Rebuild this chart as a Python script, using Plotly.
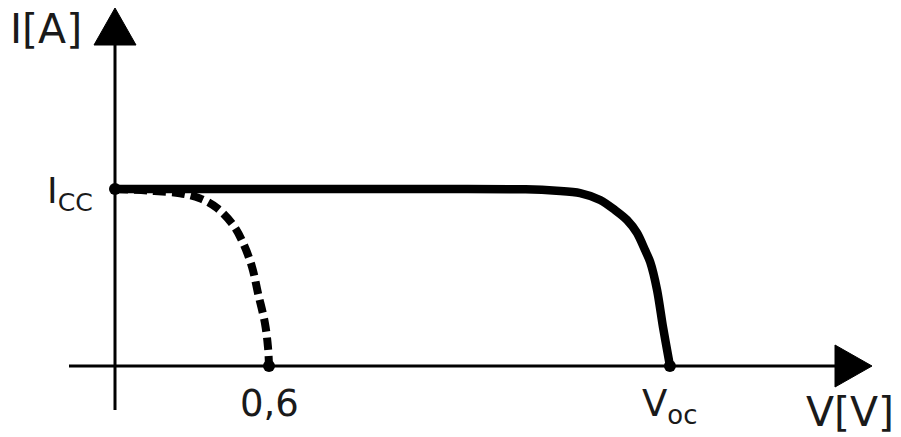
import plotly.graph_objects as go

# I-V characteristic of a solar cell: normalised current against voltage.
# Solid: full module, flat at I_CC then falling to V_oc.
v_module = [0.0, 0.70, 1.30, 1.60, 1.72, 1.812, 1.890, 1.948, 1.995, 2.034, 2.065, 2.085, 2.112, 2.135, 2.158, 2.162]
i_module = [1.0, 1.0, 1.0, 0.998, 0.990, 0.977, 0.938, 0.881, 0.825, 0.751, 0.655, 0.588, 0.429, 0.220, 0.034, 0.0]

# Dashed: single cell, open-circuit voltage of 0,6 V.
v_cell = [0.0, 0.136, 0.253, 0.331, 0.397, 0.460, 0.499, 0.534, 0.557, 0.584, 0.596, 0.600]
i_cell = [1.0, 0.990, 0.976, 0.947, 0.893, 0.797, 0.695, 0.559, 0.412, 0.243, 0.107, 0.0]

# Marked points and their labels
v_ticks = [0.6, 2.162]
v_tick_labels = ["0,6", "V<sub>oc</sub>"]
i_sc = 1.0
i_sc_label = "I<sub>CC</sub>"
x_title = "V[V]"
y_title = "I[A]"

W, H = 901, 437
SX, SY = 256.67, 177.0          # pixels per data unit
X0, Y0 = 115, 366               # pixel position of the origin
x_range = [-X0 / SX, (W - X0) / SX]
y_range = [-(H - Y0) / SY, Y0 / SY]


def dx(px):
    return px / SX


def dy(px):
    return px / SY


INK = "#000000"
TEXT = "#1a1a1a"
FONT = "DejaVu Sans"

fig = go.Figure()

fig.add_trace(go.Scatter(
    x=v_module, y=i_module, mode="lines",
    line=dict(color=INK, width=8.5, shape="spline", smoothing=0.8),
    hoverinfo="skip"))

fig.add_trace(go.Scatter(
    x=v_cell, y=i_cell, mode="lines",
    line=dict(color=INK, width=8, dash="13px,6px", shape="spline", smoothing=1.0),
    hoverinfo="skip"))

fig.add_trace(go.Scatter(
    x=[0.0] + v_ticks, y=[i_sc, 0.0, 0.0], mode="markers",
    marker=dict(color=INK, size=12), hoverinfo="skip"))

# Axes with arrowheads
x_left, x_base, x_tip = -dx(46), x_range[1] - dx(66), x_range[1] - dx(29)
y_bottom, y_base, y_tip = -dy(44), y_range[1] - dy(45), y_range[1] - dy(8)
half = 21

shapes = [
    dict(type="line", x0=x_left, x1=x_base, y0=0, y1=0, line=dict(color=INK, width=3)),
    dict(type="line", x0=0, x1=0, y0=y_bottom, y1=y_base, line=dict(color=INK, width=3)),
    dict(type="path",
         path=f"M {x_base} {dy(half)} L {x_tip} 0 L {x_base} {-dy(half)} Z",
         fillcolor=INK, line=dict(color=INK, width=1)),
    dict(type="path",
         path=f"M {-dx(half)} {y_base} L 0 {y_tip} L {dx(half)} {y_base} Z",
         fillcolor=INK, line=dict(color=INK, width=1)),
]

annotations = []
for v, lab in zip(v_ticks, v_tick_labels):
    annotations.append(dict(x=v, y=0, text=lab, showarrow=False,
                            xanchor="center", yanchor="top", yshift=-14,
                            font=dict(family=FONT, size=37, color=TEXT)))
annotations.append(dict(x=0, y=i_sc, text=i_sc_label, showarrow=False,
                        xanchor="right", yanchor="middle", xshift=-20, yshift=-4,
                        font=dict(family=FONT, size=36, color=TEXT)))
annotations.append(dict(x=-dx(31), y=y_range[1] - dy(29), text=y_title, showarrow=False,
                        xanchor="right", yanchor="middle",
                        font=dict(family=FONT, size=41, color=TEXT)))
annotations.append(dict(x=x_range[1] - dx(5), y=-dy(46), text=x_title, showarrow=False,
                        xanchor="right", yanchor="middle",
                        font=dict(family=FONT, size=41, color=TEXT)))

fig.update_layout(
    width=W, height=H, autosize=False,
    margin=dict(l=0, r=0, t=0, b=0),
    paper_bgcolor="white", plot_bgcolor="white",
    showlegend=False,
    xaxis=dict(range=x_range, visible=False, fixedrange=True),
    yaxis=dict(range=y_range, visible=False, fixedrange=True),
    shapes=shapes, annotations=annotations,
)

fig.write_html("out.html", config={"displayModeBar": False})
